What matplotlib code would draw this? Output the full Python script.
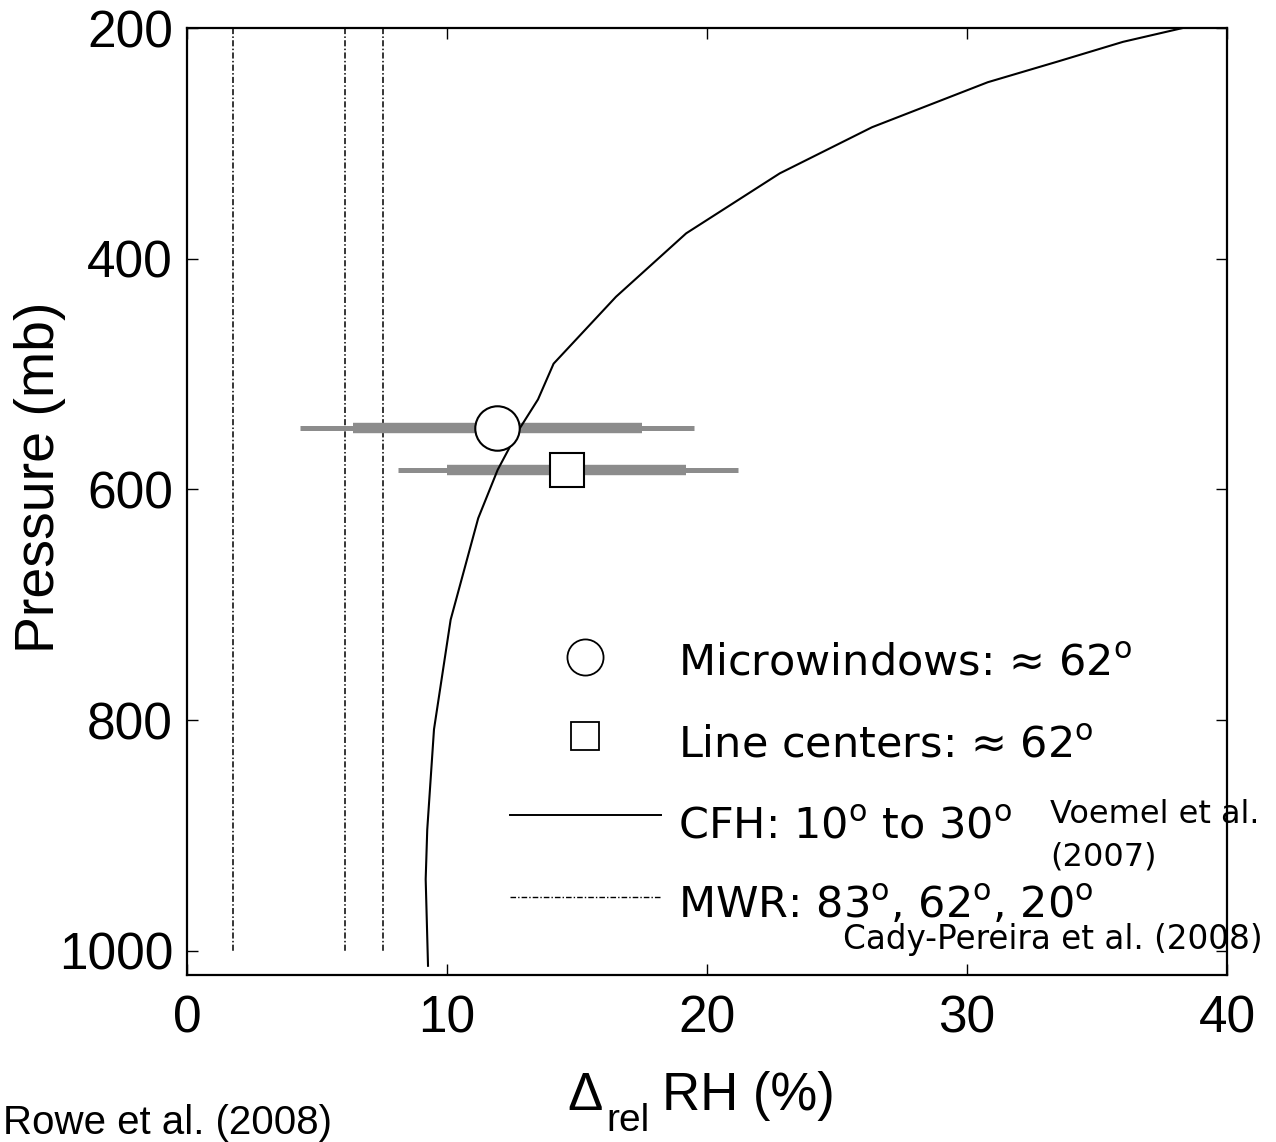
import matplotlib
matplotlib.use('Agg')
import matplotlib.pyplot as plt
from matplotlib.lines import Line2D

# CFH profile (Voemel et al. 2007): pressure (mb) vs relative RH uncertainty (%)
cfh_p = [200, 212, 229, 247, 286, 326, 378, 433, 491, 522, 547, 583, 625, 713, 808, 895, 938, 1013]
cfh_x = [38.3, 36.0, 33.5, 30.8, 26.35, 22.8, 19.2, 16.5, 14.1, 13.5, 12.8, 11.95, 11.2, 10.14, 9.5, 9.24, 9.18, 9.27]

# MWR uncertainties at 83, 62, 20 degrees
mwr_x = [1.78, 6.06, 7.53]
mwr_p = [200, 1000]

# retrieval points with ranges
mw_x, mw_p = 11.93, 547
mw_thin = [4.36, 19.5]
mw_thick = [6.37, 17.5]
lc_x, lc_p = 14.6, 583
lc_thin = [8.1, 21.2]
lc_thick = [10.0, 19.2]

legend_labels = [r'Microwindows: ≈ 62$^{\mathrm{o}}$',
                 r'Line centers: ≈ 62$^{\mathrm{o}}$',
                 r'CFH: 10$^{\mathrm{o}}$ to 30$^{\mathrm{o}}$',
                 r'MWR: 83$^{\mathrm{o}}$, 62$^{\mathrm{o}}$, 20$^{\mathrm{o}}$']

W, H = 1276, 1142
fig = plt.figure(figsize=(W / 100, H / 100), dpi=100)
ax = fig.add_axes([187 / W, 1 - 975 / H, 1040 / W, 947 / H])

gray = '#8c8c8c'
dashdot = (0, (4, 1.5, 1, 1.5))

for xv in mwr_x:
    ax.plot([xv, xv], mwr_p, color='black', lw=1.1, linestyle=dashdot)

ax.plot(mw_thin, [mw_p, mw_p], color=gray, lw=3.6, solid_capstyle='butt')
ax.plot(mw_thick, [mw_p, mw_p], color=gray, lw=7.5, solid_capstyle='butt')
ax.plot(lc_thin, [lc_p, lc_p], color=gray, lw=3.6, solid_capstyle='butt')
ax.plot(lc_thick, [lc_p, lc_p], color=gray, lw=7.5, solid_capstyle='butt')

ax.plot(cfh_x, cfh_p, color='black', lw=1.5)

ax.plot([mw_x], [mw_p], marker='o', ms=32, mfc='white', mec='black', mew=1.5, ls='none')
ax.plot([lc_x], [lc_p], marker='s', ms=25, mfc='white', mec='black', mew=1.5, ls='none')

ax.set_xlim(0, 40)
ax.set_ylim(1021, 200)
ax.set_xticks([0, 10, 20, 30, 40])
ax.set_yticks([200, 400, 600, 800, 1000])
for lab in ax.get_xticklabels() + ax.get_yticklabels():
    lab.set_fontfamily('Liberation Sans')
    lab.set_fontsize(37)
ax.tick_params(axis='both', direction='in', length=8, width=1.0, top=True, right=True)
ax.tick_params(axis='x', pad=14)
ax.tick_params(axis='y', pad=10)
for s in ax.spines.values():
    s.set_linewidth(1.6)

ax.set_ylabel('Pressure (mb)', family='Liberation Sans', fontsize=40)
ax.yaxis.set_label_coords((66 - 187) / 1040, (975 - 477) / 947)

# legend drawn by hand, MATLAB style
def ax_xy(px, py):
    return (px - 187) / 1040, (975 - py) / 947

rows_y = [657, 736, 815, 897]
base_y = [675, 757, 838, 918]
x0, x1 = ax_xy(510, 0)[0], ax_xy(661, 0)[0]
xm = (x0 + x1) / 2
handles = [dict(marker='o', ms=26, ls='none'),
           dict(marker='s', ms=20, ls='none'),
           dict(ls='-'),
           dict(ls=dashdot)]
for ry, by, hd, lab in zip(rows_y, base_y, handles, legend_labels):
    yy = ax_xy(0, ry)[1]
    if hd['ls'] == 'none':
        ax.add_line(Line2D([xm], [yy], transform=ax.transAxes, marker=hd['marker'], ms=hd['ms'],
                           mfc='white', mec='black', mew=1.3, ls='none'))
    else:
        ax.add_line(Line2D([x0, x1], [yy, yy], transform=ax.transAxes, color='black',
                           lw=1.4 if hd['ls'] == '-' else 1.0, ls=hd['ls']))
    tx, ty = ax_xy(678, by)
    ax.text(tx, ty, lab, transform=ax.transAxes, family='DejaVu Sans', fontsize=31,
            va='baseline', ha='left')

# x label pieces
fig.text(567 / W, 1 - 1110 / H, 'Δ', family='Liberation Sans', fontsize=38, va='baseline')
fig.text(606 / W, 1 - 1131 / H, 'rel', family='Liberation Sans', fontsize=28, va='baseline')
fig.text(662 / W, 1 - 1110 / H, 'RH (%)', family='Liberation Sans', fontsize=38, va='baseline')

# source annotations
fig.text(1050 / W, 1 - 823 / H, 'Voemel et al.', family='DejaVu Sans', fontsize=23, va='baseline')
fig.text(1050 / W, 1 - 866 / H, '(2007)', family='DejaVu Sans', fontsize=23, va='baseline')
fig.text(843 / W, 1 - 949 / H, 'Cady-Pereira et al. (2008)', family='DejaVu Sans', fontsize=23.5,
         va='baseline')
fig.text(3 / W, 1 - 1134 / H, 'Rowe et al. (2008)', family='Liberation Sans', fontsize=29,
         va='baseline')

fig.savefig('out.png', dpi=100)
